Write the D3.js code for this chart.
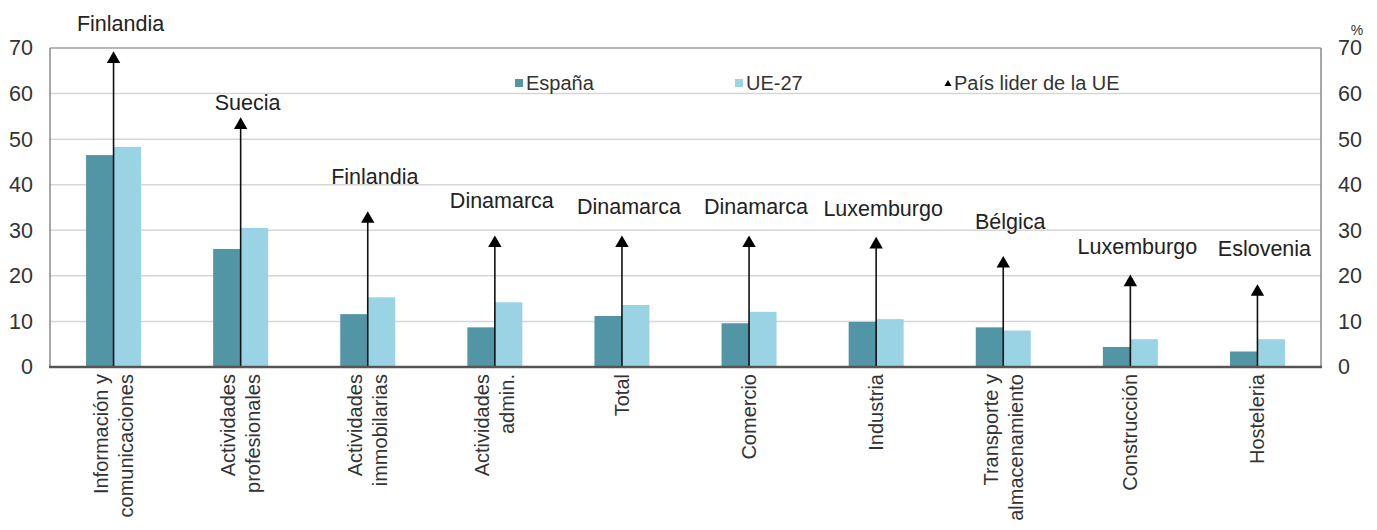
<!DOCTYPE html>
<html>
<head>
<meta charset="utf-8">
<script src="https://cdn.jsdelivr.net/npm/d3@7"></script>
<style>
  html, body { margin: 0; padding: 0; background: #fff; }
  svg { display: block; font-family: "Liberation Sans", Arial, sans-serif; }
</style>
</head>
<body>
<svg id="chart" width="1377" height="530"></svg>
<script>
// ---- Data ----
const categories = [
  ["Información y", "comunicaciones"],
  ["Actividades", "profesionales"],
  ["Actividades", "immobilarias"],
  ["Actividades", "admin."],
  ["Total"],
  ["Comercio"],
  ["Industria"],
  ["Transporte y", "almacenamiento"],
  ["Construcción"],
  ["Hosteleria"]
];
const espana = [46.5, 25.9, 11.6, 8.7, 11.2, 9.6, 9.9, 8.7, 4.4, 3.4];
const ue27   = [48.3, 30.5, 15.3, 14.2, 13.6, 12.1, 10.5, 8.0, 6.1, 6.1];
const leaderValues = [67.8, 53.3, 32.7, 27.4, 27.4, 27.4, 27.1, 22.9, 18.8, 16.7];
const leaderNames = ["Finlandia", "Suecia", "Finlandia", "Dinamarca", "Dinamarca",
                     "Dinamarca", "Luxemburgo", "Bélgica", "Luxemburgo", "Eslovenia"];
const yTicks = [0, 10, 20, 30, 40, 50, 60, 70];
const seriesNames = ["España", "UE-27", "País lider de la UE"];

// ---- Layout / style ----
const colEsp = "#5296a6", colUE = "#9ad3e3";
const leaderLabelDy = [-27, -14.5, -33.5, -34, -28, -28, -27.5, -33.5, -27, -35];
const margin = { left: 50, right: 56, top: 48, bottom: 163 };
const W = 1377, H = 530;
const svg = d3.select("#chart");

const x = d3.scaleBand().domain(d3.range(categories.length))
  .range([margin.left, W - margin.right]).paddingInner(0).paddingOuter(0);
const y = d3.scaleLinear().domain([0, 70]).range([H - margin.bottom, margin.top]);
const barW = 27.5;

// gridlines
svg.append("g").selectAll("line").data(yTicks.filter(d => d > 0 && d < 70)).join("line")
  .attr("x1", margin.left).attr("x2", W - margin.right)
  .attr("y1", d => y(d)).attr("y2", d => y(d))
  .attr("stroke", "#d6d6d6").attr("stroke-width", 1.5);

// frame
svg.append("line").attr("x1", margin.left).attr("x2", W - margin.right)
  .attr("y1", y(70)).attr("y2", y(70)).attr("stroke", "#a0a0a0").attr("stroke-width", 1.5);
svg.append("line").attr("x1", margin.left).attr("x2", margin.left)
  .attr("y1", y(70)).attr("y2", y(0)).attr("stroke", "#8a8a8a").attr("stroke-width", 1.5);
svg.append("line").attr("x1", W - margin.right).attr("x2", W - margin.right)
  .attr("y1", y(70)).attr("y2", y(0)).attr("stroke", "#8a8a8a").attr("stroke-width", 1.5);

// bars
const g = svg.append("g");
g.selectAll("rect.esp").data(espana).join("rect").attr("class", "esp")
  .attr("x", (d, i) => x(i) + x.bandwidth() / 2 - barW)
  .attr("width", barW)
  .attr("y", d => y(d)).attr("height", d => y(0) - y(d))
  .attr("fill", colEsp);
g.selectAll("rect.ue").data(ue27).join("rect").attr("class", "ue")
  .attr("x", (d, i) => x(i) + x.bandwidth() / 2)
  .attr("width", barW)
  .attr("y", d => y(d)).attr("height", d => y(0) - y(d))
  .attr("fill", colUE);

// leader lines + triangles
const tri = d3.symbol().type(d3.symbolTriangle).size(78);
g.selectAll("line.lead").data(leaderValues).join("line").attr("class", "lead")
  .attr("x1", (d, i) => x(i) + x.bandwidth() / 2).attr("x2", (d, i) => x(i) + x.bandwidth() / 2)
  .attr("y1", y(0)).attr("y2", d => y(d))
  .attr("stroke", "#111").attr("stroke-width", 1.6);
g.selectAll("path.tri").data(leaderValues).join("path").attr("class", "tri")
  .attr("d", tri)
  .attr("transform", (d, i) => `translate(${x(i) + x.bandwidth() / 2},${y(d) + 1})`)
  .attr("fill", "#000");
g.selectAll("text.leadname").data(leaderNames).join("text").attr("class", "leadname")
  .attr("x", (d, i) => x(i) + x.bandwidth() / 2 + 7)
  .attr("y", (d, i) => y(leaderValues[i]) + leaderLabelDy[i])
  .attr("text-anchor", "middle").attr("font-size", 21.5).attr("fill", "#222")
  .text(d => d);

// bottom axis line
svg.append("line").attr("x1", margin.left - 1).attr("x2", W - margin.right + 1)
  .attr("y1", y(0)).attr("y2", y(0)).attr("stroke", "#555").attr("stroke-width", 2.5);

// y axes (left & right)
const axL = d3.axisLeft(y).tickValues(yTicks).tickSize(0).tickPadding(17);
const axR = d3.axisRight(y).tickValues(yTicks).tickSize(0).tickPadding(17);
const gL = svg.append("g").attr("transform", `translate(${margin.left},0)`).call(axL);
const gR = svg.append("g").attr("transform", `translate(${W - margin.right},0)`).call(axR);
[gL, gR].forEach(a => {
  a.select(".domain").remove();
  a.selectAll("text").attr("font-size", 21.5).attr("fill", "#333")
    .attr("font-family", '"Liberation Sans", Arial, sans-serif');
});
svg.append("text").attr("x", 1357).attr("y", 35).attr("text-anchor", "middle")
  .attr("font-size", 14).attr("fill", "#333").text("%");

// category labels (rotated)
const lineH = 25;
const cat = svg.append("g").selectAll("text").data(categories).join("text")
  .attr("font-size", 20).attr("fill", "#333").attr("text-anchor", "end")
  .attr("transform", (d, i) => `translate(${x(i) + x.bandwidth() / 2},${y(0) + 7}) rotate(-90)`);
cat.each(function (lines) {
  const t = d3.select(this);
  lines.forEach((l, k) => {
    t.append("tspan").attr("x", 0)
      .attr("y", 7 + (k - (lines.length - 1) / 2) * lineH)
      .text(l);
  });
});

// legend
const leg = svg.append("g");
leg.append("rect").attr("x", 515).attr("y", 79).attr("width", 8).attr("height", 8).attr("fill", colEsp);
leg.append("text").attr("x", 526).attr("y", 90).attr("font-size", 20).attr("fill", "#333").text(seriesNames[0]);
leg.append("rect").attr("x", 735).attr("y", 79).attr("width", 8).attr("height", 8).attr("fill", colUE);
leg.append("text").attr("x", 746).attr("y", 90).attr("font-size", 20).attr("fill", "#333").text(seriesNames[1]);
leg.append("path").attr("d", d3.symbol().type(d3.symbolTriangle).size(22))
  .attr("transform", "translate(948,84)").attr("fill", "#000");
leg.append("text").attr("x", 954).attr("y", 90).attr("font-size", 20).attr("fill", "#333").text(seriesNames[2]);
</script>
</body>
</html>
